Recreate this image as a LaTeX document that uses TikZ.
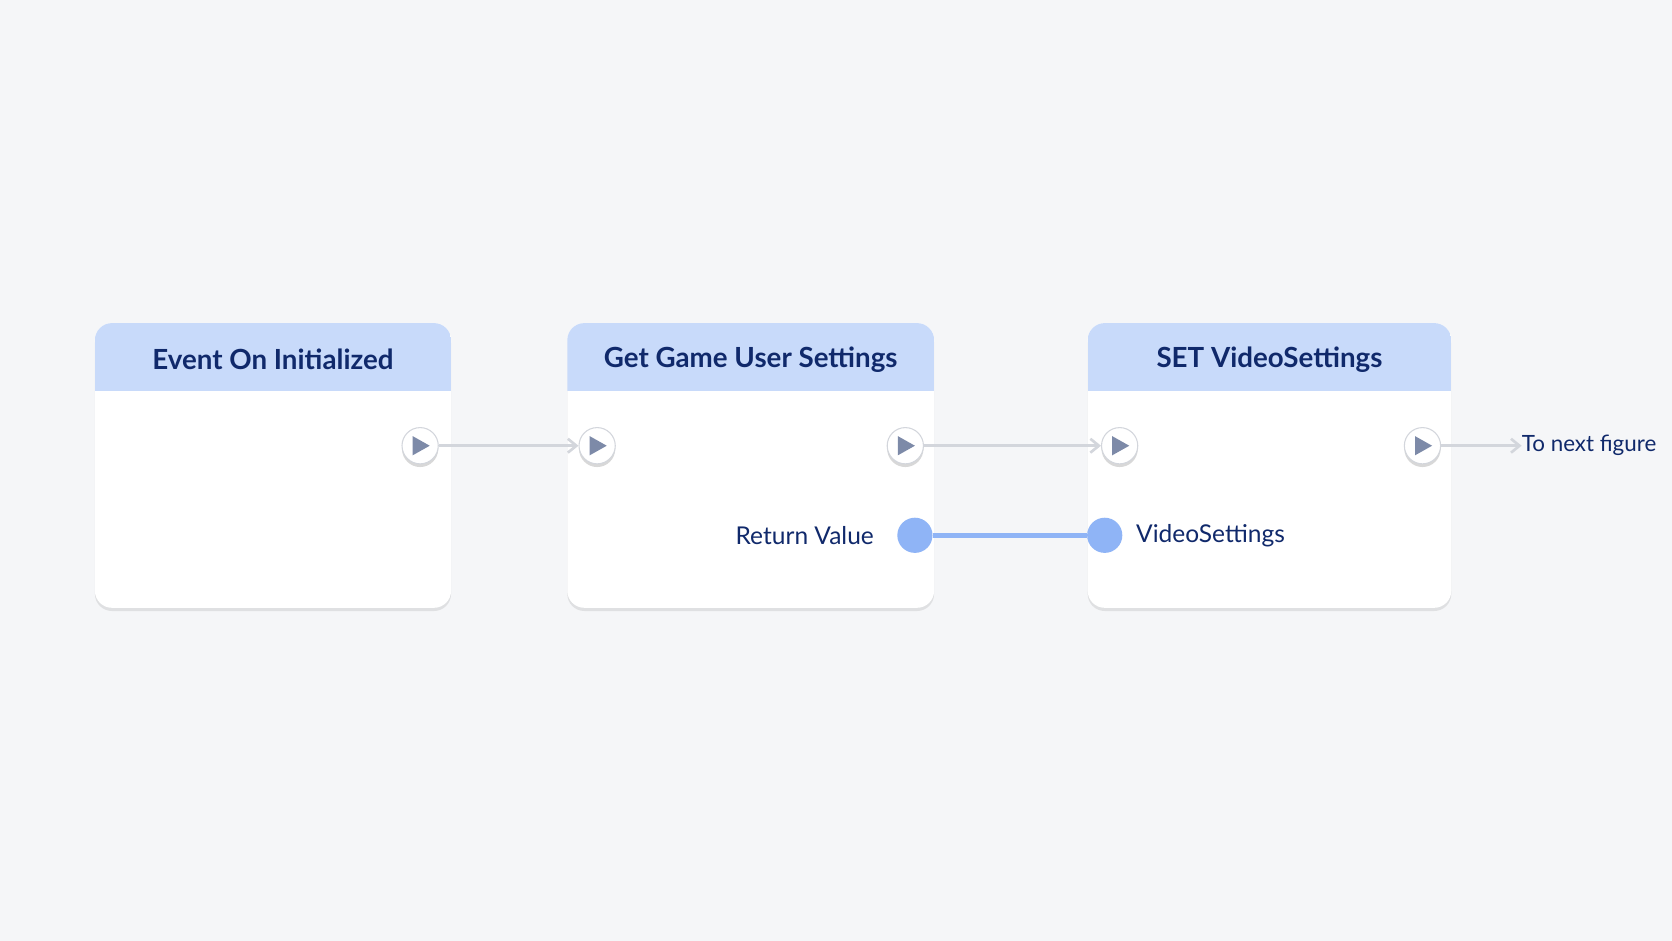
\documentclass[tikz,border=0pt]{standalone}
\usepackage{fontspec}
\setmainfont{Lato}
\usetikzlibrary{shadows,arrows.meta,calc}
\definecolor{bgcol}{HTML}{F5F6F8}
\definecolor{headcol}{HTML}{C8DAFA}
\definecolor{navy}{HTML}{10296B}
\definecolor{pinblue}{HTML}{8FB4F6}
\definecolor{tricol}{HTML}{7D8AA8}
\definecolor{flowgray}{HTML}{D3D6DC}
\tikzset{
  block/.style={draw=none,fill=white,rounded corners=16pt,
    drop shadow={shadow xshift=0pt,shadow yshift=-3pt,opacity=.18,fill=gray}},
  head/.style={fill=headcol},
  title/.style={text=navy,font=\fontsize{26}{30}\selectfont\bfseries},
  label/.style={text=navy,font=\fontsize{23}{27}\selectfont},
  exec/.style={circle,fill=white,draw=flowgray,line width=1pt,minimum size=34pt,inner sep=0pt,
    drop shadow={shadow xshift=0pt,shadow yshift=-3pt,opacity=.3,fill=gray}},
  data/.style={circle,fill=pinblue,minimum size=33pt,inner sep=0pt},
  flow/.style={draw=flowgray,line width=2.5pt,-{Straight Barb[length=8pt,width=13pt]}},
}
% macro for a node: left x, right x, title, name
\newcommand{\bpnode}[4]{%
  \fill[block] (#1,303) rectangle (#2,570);
  \begin{scope}
    \clip[rounded corners=16pt] (#1,303) rectangle (#2,570);
    \fill[head] (#1,303) rectangle (#2,367);
  \end{scope}
  \node[title] (#4) at ({(#1+#2)/2},337) {#3};
}
\newcommand{\execpin}[3]{%
  \node[exec] (#1) at (#2,#3) {};
  \fill[tricol] ($(#1)+(-7,-9)$) -- ($(#1)+(9,0)$) -- ($(#1)+(-7,9)$) -- cycle;
}
\begin{document}
\begin{tikzpicture}[x=1pt,y=-1pt]
\fill[bgcol] (0,0) rectangle (1568,882);
\useasboundingbox (0,0) rectangle (1568,882);

\bpnode{89}{423}{Event On Initialized}{event}
\bpnode{532}{876}{Get Game User Settings}{getset}
\bpnode{1020}{1361}{SET VideoSettings}{setvid}

\execpin{eventout}{394}{418}
\execpin{getin}{560}{418}
\execpin{getout}{849}{418}
\execpin{setin}{1050}{418}
\execpin{setout}{1334}{418}

\node[data] (retpin) at (858,502) {};
\node[data] (vidpin) at (1036,502) {};
\draw[pinblue,line width=5pt] (retpin) -- (vidpin);

\node[label,anchor=east] (retlbl) at (823,502) {Return Value};
\node[label,anchor=west] (vidlbl) at (1062,502) {VideoSettings};
\node[label,anchor=west,inner sep=0pt,font=\fontsize{21}{25}\selectfont] (next) at (1427,418) {To next figure};

\foreach \a/\b in {eventout/getin,getout/setin,setout/next}
  \draw[flow] (\a) -- (\b);
\end{tikzpicture}
\end{document}
